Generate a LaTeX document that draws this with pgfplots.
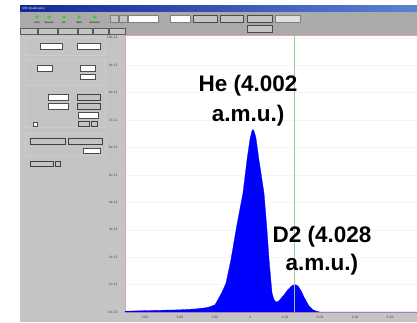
\documentclass[border=0pt]{standalone}
\usepackage{pgfplots}
\pgfplotsset{compat=1.18}
\usepackage{fontspec}
\setmainfont{Liberation Sans}
\setsansfont{Liberation Sans}
\definecolor{panel}{RGB}{196,196,196}
\definecolor{tool}{RGB}{170,170,170}
\definecolor{tbar}{RGB}{20,40,150}
\definecolor{tbar2}{RGB}{90,130,210}
\definecolor{led}{RGB}{60,200,60}
\definecolor{pinkline}{RGB}{230,160,170}
\definecolor{gridc}{RGB}{249,243,245}
\definecolor{cursor}{RGB}{150,205,150}
\begin{document}
\begin{tikzpicture}[x=1pt,y=1pt]
\useasboundingbox (0,0) rectangle (417,322);
\fill[white] (0,0) rectangle (417,322);
\begin{scope}[shift={(0,322)},yscale=-1]
  % window
  \fill[panel] (20,6) rectangle (417,322);
  \shade[left color=tbar,right color=tbar2] (20,6) rectangle (417,12);
  \node[font=\fontsize{3}{3}\selectfont,text=white,anchor=west,inner sep=0] at (22,9) {SSS Quadrupole};
  \fill[tool] (20,12) rectangle (417,28);
  \fill[tool] (100,28) rectangle (417,35);
  \foreach \x in {37,49,64,79,95} \fill[led] (\x,17) circle (1.8);
  \foreach \x/\t in {37/UGS,49/Vacuum,64/RF,79/SEM,95/Emission}
    \node[font=\fontsize{2.5}{3}\selectfont,inner sep=0] at (\x,23) {\t};
  % toolbar widgets
  \draw[gray,fill=panel] (110,15) rectangle (118,22);
  \draw[gray,fill=panel] (119,15) rectangle (127,22);
  \draw[gray,fill=white] (128,15) rectangle (158,22);
  \draw[gray,fill=white] (170,15) rectangle (190,22);
  \foreach \a/\b in {193/217,220/243,247/272}
    \draw[gray!60!black,fill=panel] (\a,15) rectangle (\b,22);
  \draw[gray!60!black,fill=panel] (247,25) rectangle (272,32);
  \draw[gray,fill=gray!25] (275,15) rectangle (300,22);
  % tabs
  \foreach \a/\b in {20/37,38/57,58/77,78/92,93/108,109/125}
    \draw[gray!70!black,fill=panel] (\a,28) rectangle (\b,34);
  % left panel groups
  \foreach \a/\b in {37/55,59/80,85/127,133/155}
    \draw[gray!40] (25,\a) rectangle (105,\b);
  \foreach \a/\b/\c/\d in {40/43/62/49,77/43/100/49,37/65/52/71,80/65/95/71,80/74/95/79,48/94/68/100,48/103/68/109,78/112/98/118,83/148/100/153}
    \draw[gray!60!black,fill=white] (\a,\b) rectangle (\c,\d);
  \foreach \a/\b/\c/\d in {77/94/100/100,77/103/100/109,30/138/65/144,68/138/102/144,30/161/53/166,55/161/60/166,78/121/89/126,91/121/97/126}
    \draw[gray!50!black,fill=panel] (\a,\b) rectangle (\c,\d);
  \draw[gray!60!black,fill=white] (33,122) rectangle (37,126);
\end{scope}
\begin{axis}[
  at={(125pt,10pt)}, anchor=south west,
  width=292pt, height=277pt, scale only axis,
  xmin=3.9286, xmax=4.0954, ymin=0, ymax=10.1,
  axis background/.style={fill=white},
  axis line style={draw=pinkline, line width=0.6pt},
  xtick={3.94,3.96,3.98,4,4.02,4.04,4.06,4.08},
  xticklabels={3.94,3.96,3.98,4,4.02,4.04,4.06,4.08},
  ytick={0,1,2,3,4,5,6,7,8,9,10},
  yticklabels={0e-10,1e-11,2e-11,3e-11,4e-11,5e-11,6e-11,7e-11,8e-11,9e-11,10e-11},
  ymajorgrids, grid style={gridc, line width=0.4pt},
  major tick length=0pt,
  tick label style={font=\fontsize{3.5}{4}\selectfont, text=black!70},
  xticklabel style={yshift=-1pt},
  yticklabel style={xshift=-4pt},
  clip=true,
]
\addplot[fill=blue, draw=blue, line width=0.3pt] coordinates {
(3.9286,0.03) (3.9400,0.05) (3.9600,0.08) (3.9686,0.11) (3.9743,0.15)
(3.9771,0.19) (3.9800,0.26) (3.9817,0.45) (3.9840,0.72) (3.9863,1.05)
(3.9891,1.9) (3.9926,3.2) (3.9960,4.34) (3.9983,5.55) (4.0000,6.3)
(4.0011,6.6) (4.0017,6.65) (4.0023,6.6) (4.0034,6.35) (4.0051,5.55)
(4.0069,4.8) (4.0080,4.34) (4.0097,3.0) (4.0109,1.9) (4.0120,1.1)
(4.0126,0.69) (4.0137,0.45) (4.0149,0.37) (4.0160,0.38) (4.0171,0.45)
(4.0194,0.62) (4.0217,0.82) (4.0240,0.96) (4.0257,1.0) (4.0274,0.95)
(4.0291,0.78) (4.0314,0.48) (4.0337,0.22) (4.0360,0.08) (4.0383,0.02)
(4.0400,0.0) (4.0954,0.0)
} \closedcycle;
\addplot[cursor, line width=0.6pt] coordinates {(4.0251,0) (4.0251,10.1)};
\node[font=\fontsize{22.5}{26}\selectfont\bfseries, anchor=base, inner sep=0] at (axis cs:3.9989,8.03) {He (4.002};
\node[font=\fontsize{22.5}{26}\selectfont\bfseries, anchor=base, inner sep=0] at (axis cs:3.9989,6.93) {a.m.u.)};
\node[font=\fontsize{22.5}{26}\selectfont\bfseries, anchor=base, inner sep=0] at (axis cs:4.0411,2.52) {D2 (4.028};
\node[font=\fontsize{22.5}{26}\selectfont\bfseries, anchor=base, inner sep=0] at (axis cs:4.0411,1.50) {a.m.u.)};
\end{axis}
\end{tikzpicture}
\end{document}
